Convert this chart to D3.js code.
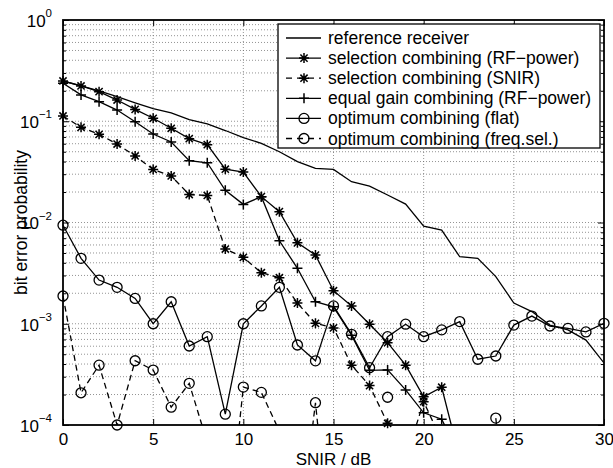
<!DOCTYPE html>
<html>
<head>
<meta charset="utf-8">
<script src="https://cdn.jsdelivr.net/npm/d3@7"></script>
<style>
  body { margin: 0; background: #fff; }
  text { font-family: "Liberation Sans", Arial, Helvetica, sans-serif; fill: #000; }
</style>
</head>
<body>
<div id="chart"></div>
<script>
// x values: SNIR in dB
var snir = [0,1,2,3,4,5,6,7,8,9,10,11,12,13,14,15,16,17,18,19,20,21,22,23,24,25,26,27,28,29,30];

// bit error probability per curve (null = not plotted)
var refReceiver = [0.25,0.223,0.199,0.175,0.152,0.133,0.121,0.104,0.094,0.081,0.069,0.0605,0.050,0.040,0.0343,0.0335,0.0253,0.0229,0.0187,0.0152,0.0092,0.0084,0.00459,0.00443,0.00292,0.0016,0.00132,0.00097,0.00087,0.00069,0.00041];
var selRF = [0.25,0.223,0.196,0.162,0.131,0.107,0.0852,0.0673,0.0587,0.0336,0.0315,0.018,0.0128,0.0063,0.00477,0.00212,0.0015,0.00099,0.00065,0.00039,0.00019,0.000236,0.000047,null,null,null,null,null,null,null,null];
var selSNIR = [0.1127,0.0871,0.0743,0.0596,0.0454,0.0334,0.0288,0.0189,0.0185,0.00547,0.00453,0.00319,0.00285,0.0016,0.00101,0.00091,0.00039,0.000245,0.000104,0.000046,0.00017,0.00007,null,null,null,null,null,null,null,null,null];
var egcRF = [0.237,0.182,0.156,0.129,0.099,0.0748,0.0624,0.0408,0.0389,0.0208,0.0151,0.018,0.0066,0.00353,0.00165,0.00147,0.00077,0.000347,0.00035,0.000222,0.000132,0.000114,0.00005,null,null,null,null,null,null,null,null];
var optFlat = [0.0094,0.00443,0.0027,0.00229,0.00178,0.001,0.00165,0.000603,0.000745,0.000128,0.001,0.0015,0.00229,0.000617,0.00043,0.0015,0.000787,0.000368,0.000745,0.00099,0.000745,0.00087,0.00105,0.000446,0.00048,0.00097,0.00119,0.00095,0.0009,0.00083,0.00101];
var optFreq = [0.00188,0.000208,0.00039,0.0001,0.000431,0.000349,0.00015,0.000258,0.000067,0.000005,0.000237,0.00021,0.000087,0.0000056,0.000166,0.000003,null,null,0.000188,null,null,null,null,null,0.000117,0.000003,null,null,null,null,null];

var legendLabels = ["reference receiver", "selection combining (RF\u2212power)", "selection combining (SNIR)",
  "equal gain combining (RF\u2212power)", "optimum combining (flat)", "optimum combining (freq.sel.)"];
var xTicks = [0,5,10,15,20,25,30];
var yTicks = [1e-4,1e-3,1e-2,1e-1,1];
var yExponents = ["\u22124","\u22123","\u22122","\u22121","0"];

var series = [
  {values: refReceiver, dash: null, marker: null},
  {values: selRF, dash: null, marker: "star"},
  {values: selSNIR, dash: "6,4", marker: "star"},
  {values: egcRF, dash: null, marker: "plus"},
  {values: optFlat, dash: null, marker: "circle"},
  {values: optFreq, dash: "6,4", marker: "circle"}
];

// set the dimensions and margins of the graph
var margin = {top: 20, right: 9, bottom: 43, left: 63},
  width = 613 - margin.left - margin.right,
  height = 468 - margin.top - margin.bottom;

var root = d3.select("#chart")
  .append("svg")
    .attr("width", 613)
    .attr("height", 468);

var svg = root.append("g")
  .attr("transform", "translate(" + margin.left + "," + margin.top + ")");

var x = d3.scaleLinear().domain([0, 30]).range([0, width]);
var y = d3.scaleLog().domain([1e-4, 1]).range([height, 0]);

svg.append("clipPath").attr("id", "plotclip")
  .append("rect").attr("width", width).attr("height", height);

// grid: dotted lines at x majors and every y tick (1..9 per decade)
var grid = svg.append("g")
  .attr("stroke", "#666")
  .attr("stroke-width", 0.7)
  .attr("stroke-dasharray", "1,2");
y.ticks().forEach(function(t) {
  if (t <= 1e-4 || t >= 1) return;
  grid.append("line").attr("x1", 0).attr("x2", width).attr("y1", y(t)).attr("y2", y(t));
});
xTicks.forEach(function(t) {
  if (t === 0 || t === 30) return;
  grid.append("line").attr("x1", x(t)).attr("x2", x(t)).attr("y1", 0).attr("y2", height);
});

// axes, ticks pointing inside
function styleAxis(g) {
  g.select(".domain").remove();
  g.selectAll("line").attr("stroke", "#000").attr("stroke-width", 1);
}
var minorTicks = y.ticks().filter(function(t) { return yTicks.indexOf(t) < 0; });

svg.append("g")
  .attr("transform", "translate(0," + height + ")")
  .call(d3.axisBottom(x).tickValues(xTicks).tickSize(-6).tickPadding(8).tickFormat(d3.format("d")))
  .call(styleAxis)
  .call(function(g) { g.selectAll("text").attr("font-size", 17).attr("font-family", null); });
svg.append("g")
  .call(d3.axisTop(x).tickValues(xTicks).tickSize(-6).tickFormat(""))
  .call(styleAxis);

var yAxisG = svg.append("g")
  .call(d3.axisLeft(y).tickValues(yTicks).tickSize(-6).tickPadding(11).tickFormat(function() { return "10"; }))
  .call(styleAxis);
yAxisG.selectAll("text")
  .attr("font-size", 17).attr("font-family", null).attr("dy", "0.38em")
  .each(function(d, i) {
    d3.select(this).append("tspan")
      .attr("font-size", 11.5)
      .attr("dy", "-0.85em")
      .text(yExponents[i]);
  });
svg.append("g")
  .call(d3.axisLeft(y).tickValues(minorTicks).tickSize(-3).tickFormat(""))
  .call(styleAxis);
svg.append("g")
  .attr("transform", "translate(" + width + ",0)")
  .call(d3.axisRight(y).tickValues(yTicks).tickSize(-6).tickFormat(""))
  .call(styleAxis);
svg.append("g")
  .attr("transform", "translate(" + width + ",0)")
  .call(d3.axisRight(y).tickValues(minorTicks).tickSize(-3).tickFormat(""))
  .call(styleAxis);

// marker drawing
function drawMarker(g, type, cx, cy) {
  var s = 5;
  if (type === "circle") {
    g.append("circle").attr("cx", cx).attr("cy", cy).attr("r", s)
      .attr("fill", "none").attr("stroke", "#000").attr("stroke-width", 1.3);
    return;
  }
  var p = "M" + (cx - s) + "," + cy + "H" + (cx + s) + "M" + cx + "," + (cy - s) + "V" + (cy + s);
  if (type === "star") {
    var d = s * 0.72;
    p += "M" + (cx - d) + "," + (cy - d) + "L" + (cx + d) + "," + (cy + d) +
         "M" + (cx - d) + "," + (cy + d) + "L" + (cx + d) + "," + (cy - d);
  }
  g.append("path").attr("d", p).attr("stroke", "#000").attr("stroke-width", 1.5).attr("fill", "none");
}

// data lines
var line = d3.line()
  .defined(function(d) { return d[1] != null && d[1] > 0; })
  .x(function(d) { return x(d[0]); })
  .y(function(d) { return y(d[1]); });

series.forEach(function(s) {
  var pts = snir.map(function(v, i) { return [v, s.values[i]]; });
  svg.append("path")
    .datum(pts)
    .attr("clip-path", "url(#plotclip)")
    .attr("fill", "none")
    .attr("stroke", "#000")
    .attr("stroke-width", 1.3)
    .attr("stroke-dasharray", s.dash)
    .attr("d", line);
  if (s.marker) {
    var mg = svg.append("g");
    pts.forEach(function(d) {
      if (d[1] == null || d[1] < 0.99e-4 || d[1] > 1) return;
      drawMarker(mg, s.marker, x(d[0]), y(d[1]));
    });
  }
});

// frame
svg.append("rect")
  .attr("width", width).attr("height", height)
  .attr("fill", "none").attr("stroke", "#000").attr("stroke-width", 1.8);

// legend
var legend = root.append("g").attr("transform", "translate(278,24)");
legend.append("rect")
  .attr("width", 322).attr("height", 124)
  .attr("fill", "#fff").attr("stroke", "#000").attr("stroke-width", 1.3);
series.forEach(function(s, i) {
  var ly = 14 + i * 20.1;
  legend.append("line")
    .attr("x1", 8).attr("x2", 43).attr("y1", ly).attr("y2", ly)
    .attr("stroke", "#000").attr("stroke-width", 1.3)
    .attr("stroke-dasharray", s.dash ? "6,5" : null);
  if (s.marker) drawMarker(legend, s.marker, 26, ly);
  legend.append("text")
    .attr("x", 50).attr("y", ly + 6)
    .attr("font-size", 17.5)
    .text(legendLabels[i]);
});

// axis labels
root.append("text")
  .attr("x", margin.left + width / 2).attr("y", 465)
  .attr("text-anchor", "middle").attr("font-size", 17)
  .text("SNIR / dB");
root.append("text")
  .attr("transform", "translate(27," + (margin.top + height / 2) + ") rotate(-90)")
  .attr("text-anchor", "middle").attr("font-size", 17.5)
  .text("bit error probability");
</script>
</body>
</html>
